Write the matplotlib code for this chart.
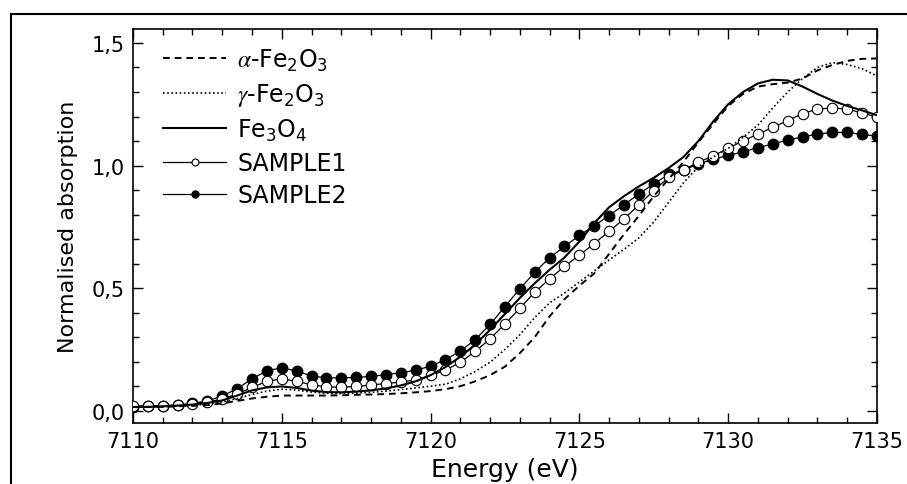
import numpy as np
import matplotlib
matplotlib.use('Agg')
import matplotlib.pyplot as plt
from matplotlib.lines import Line2D

# energy grid (eV), one point every 0.5 eV as in the marked curves
energy = np.arange(7110, 7135.25, 0.5)

alpha_fe2o3 = [0.015, 0.015, 0.016, 0.018, 0.020, 0.023, 0.030, 0.040, 0.050, 0.057,
               0.062, 0.062, 0.062, 0.062, 0.063, 0.065, 0.066, 0.068, 0.071, 0.075,
               0.080, 0.088, 0.100, 0.120, 0.145, 0.180, 0.235, 0.300, 0.385, 0.455,
               0.510, 0.560, 0.640, 0.720, 0.795, 0.875, 0.945, 1.015, 1.095, 1.170,
               1.243, 1.292, 1.322, 1.332, 1.338, 1.355, 1.388, 1.410, 1.427, 1.435,
               1.437]
gamma_fe2o3 = [0.015, 0.015, 0.016, 0.019, 0.022, 0.027, 0.035, 0.050, 0.066, 0.080,
               0.088, 0.084, 0.076, 0.071, 0.070, 0.072, 0.075, 0.080, 0.086, 0.093,
               0.100, 0.108, 0.130, 0.160, 0.198, 0.250, 0.310, 0.380, 0.440, 0.480,
               0.525, 0.570, 0.615, 0.658, 0.705, 0.770, 0.850, 0.930, 0.995, 1.035,
               1.070, 1.115, 1.165, 1.235, 1.300, 1.355, 1.400, 1.420, 1.412, 1.395,
               1.365]
fe3o4 = [0.015, 0.016, 0.018, 0.021, 0.025, 0.032, 0.042, 0.062, 0.083, 0.095,
         0.099, 0.093, 0.082, 0.076, 0.075, 0.078, 0.083, 0.091, 0.103, 0.120,
         0.145, 0.178, 0.220, 0.270, 0.330, 0.395, 0.460, 0.520, 0.575, 0.625,
         0.690, 0.765, 0.830, 0.875, 0.915, 0.950, 0.990, 1.035, 1.100, 1.180,
         1.250, 1.300, 1.335, 1.350, 1.347, 1.322, 1.292, 1.265, 1.243, 1.225,
         1.205]
sample1 = [0.020, 0.020, 0.020, 0.022, 0.027, 0.035, 0.048, 0.068, 0.095, 0.120,
           0.130, 0.120, 0.106, 0.097, 0.096, 0.099, 0.105, 0.111, 0.117, 0.126,
           0.144, 0.165, 0.198, 0.242, 0.293, 0.354, 0.418, 0.483, 0.538, 0.589,
           0.634, 0.682, 0.732, 0.782, 0.840, 0.898, 0.952, 0.983, 1.013, 1.040,
           1.070, 1.101, 1.128, 1.156, 1.183, 1.212, 1.230, 1.235, 1.230, 1.215,
           1.197]
sample2 = [0.015, 0.018, 0.020, 0.024, 0.030, 0.040, 0.060, 0.090, 0.130, 0.163,
           0.175, 0.162, 0.142, 0.134, 0.134, 0.136, 0.140, 0.147, 0.155, 0.165,
           0.182, 0.208, 0.243, 0.290, 0.352, 0.425, 0.497, 0.565, 0.624, 0.670,
           0.715, 0.755, 0.796, 0.840, 0.884, 0.925, 0.964, 0.982, 1.006, 1.026,
           1.041, 1.056, 1.073, 1.088, 1.104, 1.117, 1.128, 1.135, 1.135, 1.127,
           1.120]

y_ticks = [0.0, 0.5, 1.0, 1.5]
x_ticks = [7110, 7115, 7120, 7125, 7130, 7135]

plt.rcParams.update({
    'font.family': 'DejaVu Sans',
    'mathtext.fontset': 'stix',
})

fig = plt.figure(figsize=(9.07, 4.85), dpi=100)
ax = fig.add_axes([0.1466, 0.1258, 0.8203, 0.8124])

ax.plot(energy, sample2, color='black', linewidth=0.9, marker='o', markersize=7.5,
        markerfacecolor='black', markeredgecolor='black', label='SAMPLE2', zorder=3)
ax.plot(energy, sample1, color='black', linewidth=0.9, marker='o', markersize=7.5,
        markerfacecolor='white', markeredgecolor='black', markeredgewidth=0.8,
        label='SAMPLE1', zorder=4)
ax.plot(energy, alpha_fe2o3, color='black', linewidth=1.4, linestyle=(0, (3.5, 2.5)),
        label=r'$\alpha$-Fe$\mathregular{_2}$O$\mathregular{_3}$', zorder=5)
ax.plot(energy, gamma_fe2o3, color='black', linewidth=1.2, linestyle=(0, (1, 1.5)),
        label=r'$\gamma$-Fe$\mathregular{_2}$O$\mathregular{_3}$', zorder=5)
ax.plot(energy, fe3o4, color='black', linewidth=1.5,
        label=r'Fe$\mathregular{_3}$O$\mathregular{_4}$', zorder=5)

ax.set_xlim(7110, 7135)
ax.set_ylim(-0.05, 1.557)
ax.set_xticks(x_ticks)
ax.set_xticklabels([str(t) for t in x_ticks])
ax.set_yticks(y_ticks)
ax.set_yticklabels([f'{v:.1f}'.replace('.', ',') for v in y_ticks])
ax.set_xticks(np.arange(7110, 7136, 1), minor=True)
ax.set_yticks(np.arange(0.0, 1.56, 0.1), minor=True)
ax.tick_params(which='both', direction='in', top=True, right=True, width=1.0,
               labelsize=15, pad=6, colors='black')
ax.tick_params(which='major', length=7)
ax.tick_params(which='minor', length=4)
for s in ax.spines.values():
    s.set_linewidth(1.2)

ax.set_xlabel('Energy (eV)', fontsize=18, labelpad=4)
ax.set_ylabel('Normalised absorption', fontsize=16, labelpad=10)

handles, labels = ax.get_legend_handles_labels()
order = [2, 3, 4, 1, 0]
leg = ax.legend([handles[i] for i in order], [labels[i] for i in order],
                loc='upper left', bbox_to_anchor=(0.04, 0.955), frameon=False,
                fontsize=17, handlelength=2.7, handletextpad=0.45,
                labelspacing=0.35, borderaxespad=0, borderpad=0, numpoints=1)
for h in leg.legend_handles:
    h.set_markersize(5)

# outer frame lines of the original figure
fig.add_artist(Line2D([11 / 907, 1.0], [1 - 15 / 485, 1 - 15 / 485],
                      transform=fig.transFigure, color='black', linewidth=1.5))
fig.add_artist(Line2D([11 / 907, 11 / 907], [0.0, 1 - 15 / 485],
                      transform=fig.transFigure, color='black', linewidth=1.5))

fig.savefig('out.png', dpi=100)
